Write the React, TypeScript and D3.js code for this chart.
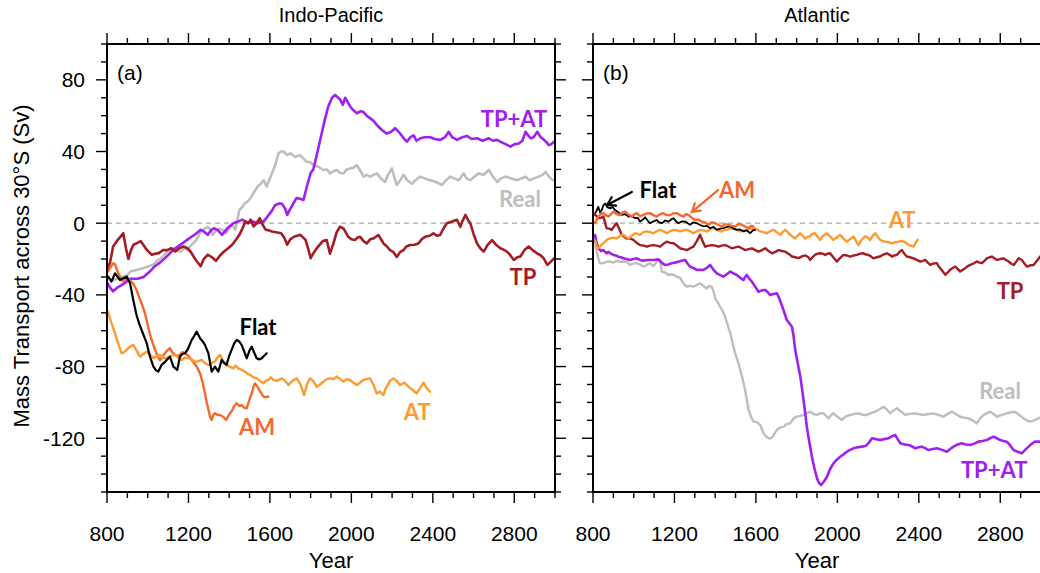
import React from 'react';
import * as d3 from 'd3';

type P = [number, number];

// ---------------- Indo-Pacific (a) ----------------
const ipTPAT: P[] = [[800,-33],[815,-36],[830,-38],[850,-36],[880,-34],[915,-31],[950,-31],[980,-30],[1010,-27],[1035,-24],[1060,-22],[1085,-19.5],[1110,-16.7],[1135,-14],[1160,-12],[1185,-10],[1210,-8],[1235,-6],[1260,-3.7],[1280,-5],[1295,-6.5],[1310,-4],[1325,-2.8],[1345,-4],[1365,-6.5],[1390,-3],[1420,0],[1445,1],[1465,2],[1490,0],[1515,1],[1540,0],[1570,1],[1590,4],[1610,7],[1625,10],[1645,11],[1660,10.8],[1675,8],[1685,4.6],[1700,8],[1710,10],[1730,14],[1748,13.6],[1765,13],[1785,22],[1800,28],[1813,30],[1830,38],[1846,46],[1866,56],[1886,65],[1905,70],[1920,71.5],[1935,70],[1945,69],[1958,66],[1970,70],[1985,67],[1995,65],[2010,63],[2027,61.3],[2045,62.5],[2060,62],[2075,60],[2093,58.5],[2110,57],[2125,54.8],[2150,52],[2174,50],[2195,51],[2215,53],[2240,50],[2260,47],[2273,45.5],[2290,48],[2306,49],[2320,46],[2339,47.4],[2360,48],[2388,48],[2410,47],[2437,46.5],[2460,48],[2478,51],[2495,48],[2519,46.5],[2545,48],[2568,48.7],[2590,47],[2617,47.4],[2645,46],[2675,47.4],[2695,46],[2716,46.5],[2740,45],[2760,44],[2781,42.7],[2800,44],[2822,44.5],[2840,46],[2855,51],[2868,49],[2880,47.4],[2895,48],[2913,51],[2930,48],[2946,46.5],[2960,45],[2970,43.6],[2980,44],[2995,45.5]];

const ipReal: P[] = [[800,-30],[825,-32],[850,-31],[875,-30],[900,-29],[915,-27],[950,-26],[980,-25],[1005,-24],[1030,-23],[1045,-21],[1060,-20],[1080,-18],[1095,-16],[1120,-14],[1140,-15],[1160,-16],[1180,-14],[1195,-15],[1215,-12],[1235,-10],[1250,-7],[1260,-4.6],[1280,-3],[1295,-2],[1310,-4],[1320,-6.5],[1335,-4],[1350,-3],[1370,-4],[1385,-5.6],[1400,-3],[1415,-1],[1430,-3.7],[1440,2],[1450,7.4],[1465,9],[1475,11],[1490,12],[1505,14],[1520,17],[1540,20.5],[1555,22],[1570,24],[1584,20.4],[1600,25],[1617,29.7],[1630,34],[1642,39],[1655,40],[1667,40],[1685,38],[1700,39],[1724,37],[1748,38],[1765,36],[1781,34.3],[1800,34],[1813,32.4],[1838,31.5],[1862,29.7],[1880,30],[1895,27.8],[1912,29],[1928,29.7],[1945,28],[1961,27.8],[1978,30],[1993,30.6],[2010,31],[2027,32.4],[2045,29],[2060,26],[2075,27],[2092,26],[2110,27],[2125,27.8],[2145,25],[2166,23],[2180,27],[2199,30.6],[2210,26],[2223,21.3],[2240,24],[2256,27],[2275,24],[2297,22],[2315,24],[2338,26],[2360,25],[2387,24],[2415,23],[2445,21.3],[2465,24],[2486,26],[2505,25],[2527,24],[2552,27.8],[2565,25],[2584,24],[2605,26],[2625,27.8],[2650,27],[2675,29.7],[2695,26],[2716,23],[2735,25],[2757,26],[2785,25],[2814,24],[2835,25],[2855,26],[2875,24],[2896,25],[2920,26],[2940,27],[2953,28.7],[2970,26],[2990,24]];

const ipTP: P[] = [[800,-26],[815,-22],[830,-13],[855,-9],[880,-5.6],[893,-14],[905,-20],[918,-15],[930,-12],[950,-11],[965,-10],[990,-14],[1005,-16],[1020,-17.6],[1035,-17],[1055,-16.7],[1075,-15],[1095,-15],[1115,-14],[1135,-15.8],[1155,-14],[1175,-13],[1195,-14],[1210,-15.8],[1235,-20.4],[1260,-24],[1275,-20],[1295,-17.6],[1315,-19],[1335,-21],[1355,-18],[1375,-15.8],[1395,-14],[1415,-12],[1435,-9],[1450,-6.5],[1465,-3],[1480,1],[1495,0],[1505,2],[1520,-1.8],[1535,0],[1550,2.8],[1565,-1],[1580,-3.7],[1595,-4],[1610,-4.6],[1630,-5],[1655,-5.6],[1670,-8],[1685,-12],[1700,-9],[1720,-7.4],[1735,-7],[1750,-6.5],[1775,-9.3],[1790,-15],[1800,-19.5],[1812,-17],[1830,-14],[1845,-12],[1860,-10],[1879,-9.4],[1895,-17],[1912,-11.3],[1928,-5],[1944,-2],[1961,-2.9],[1985,-7.6],[2000,-9],[2018,-9.4],[2030,-8],[2043,-7.6],[2060,-10],[2076,-11.3],[2092,-9],[2108,-8.5],[2133,-6.6],[2158,-11.3],[2175,-13],[2190,-15],[2205,-16],[2223,-18.8],[2240,-16],[2256,-15],[2270,-13],[2288,-12.2],[2310,-12],[2329,-11.3],[2345,-9],[2362,-7.6],[2385,-7],[2403,-5.7],[2420,-7],[2436,-6.6],[2452,-3],[2469,0],[2494,0.9],[2518,1.9],[2535,-2],[2545,1],[2560,4.6],[2572,2],[2584,0],[2600,-6],[2617,-11.3],[2633,-14],[2650,-15.9],[2670,-12],[2691,-9.4],[2710,-12],[2732,-14],[2752,-15],[2773,-16.8],[2798,-20.5],[2815,-19],[2830,-18.6],[2850,-15],[2871,-13],[2890,-15],[2912,-16.8],[2930,-18],[2945,-19.6],[2962,-23.3],[2975,-22],[2995,-19.6]];

const ipFlat: P[] = [[806,-29.8],[822,-32.6],[839,-28],[864,-31.7],[897,-29.8],[913,-33.5],[929,-42.9],[945,-51.2],[958,-56],[970,-59.6],[985,-64],[995,-67],[1011,-74.5],[1028,-80],[1040,-82],[1052,-82.8],[1068,-79.1],[1080,-78],[1093,-76.3],[1109,-74.5],[1126,-80],[1145,-81.9],[1158,-74.5],[1170,-73],[1183,-72.6],[1199,-69.8],[1216,-65.1],[1228,-63],[1240,-60.5],[1257,-64.2],[1270,-66],[1281,-67.9],[1298,-72.6],[1314,-82.8],[1330,-80],[1347,-82.8],[1363,-76.3],[1375,-78],[1387,-79.1],[1400,-74],[1412,-70.7],[1425,-67],[1437,-65.1],[1449,-66],[1461,-67.9],[1475,-72],[1486,-75.4],[1500,-71],[1511,-68.9],[1522,-72],[1535,-75.4],[1548,-76],[1560,-75.4],[1572,-74],[1584,-72.6]];

const ipAM: P[] = [[805,-27],[815,-25],[830,-22.4],[840,-23],[855,-28],[880,-32.6],[895,-31],[912,-31.7],[930,-34],[945,-37.3],[960,-42],[970,-44.7],[986,-50],[1000,-57],[1011,-62],[1028,-68],[1044,-73],[1060,-76.5],[1075,-74],[1085,-72.6],[1095,-71],[1109,-69.8],[1120,-72],[1134,-73.5],[1146,-74],[1158,-73.5],[1170,-72],[1183,-72.6],[1200,-74],[1216,-76.3],[1240,-80],[1257,-83.8],[1270,-89],[1281,-94.9],[1290,-100],[1298,-104],[1306,-108],[1314,-109.8],[1322,-107],[1330,-106],[1342,-107],[1355,-107],[1370,-108],[1385,-109.8],[1398,-107],[1412,-105],[1425,-102],[1437,-100.5],[1450,-102],[1462,-101.5],[1474,-103],[1486,-103.3],[1498,-99],[1511,-94.9],[1520,-91],[1527,-89.4],[1538,-91],[1548,-93.1],[1558,-95],[1568,-96.8],[1580,-97],[1593,-96.8]];

const ipAT: P[] = [[805,-49.4],[820,-55],[839,-61.4],[855,-67],[872,-72.6],[884,-72],[896,-70.7],[912,-69],[929,-67.9],[945,-71],[962,-74.5],[978,-73],[995,-71.7],[1010,-73],[1028,-75.4],[1044,-74],[1060,-73.5],[1076,-75],[1093,-75.4],[1112,-74],[1134,-73.5],[1150,-75],[1167,-76.3],[1183,-75],[1200,-75.4],[1216,-76],[1233,-77.3],[1250,-77],[1265,-76.3],[1280,-78],[1298,-79.1],[1314,-78],[1330,-77.3],[1342,-75],[1355,-73.5],[1370,-77],[1387,-79.1],[1403,-80],[1420,-81],[1432,-79.5],[1445,-81],[1462,-82],[1478,-82.8],[1490,-84],[1503,-84.7],[1520,-86],[1535,-86.6],[1552,-88],[1568,-89.4],[1580,-88],[1593,-87.5],[1605,-86],[1617,-87.5],[1635,-88],[1658,-86.6],[1675,-88],[1691,-90.3],[1710,-88],[1732,-86.6],[1750,-90],[1768,-95.9],[1782,-90],[1797,-86.6],[1812,-88],[1830,-91.2],[1846,-90],[1863,-88.4],[1880,-87],[1895,-86.6],[1912,-87],[1928,-85.6],[1945,-87],[1961,-88.4],[1977,-87],[1993,-87.5],[2010,-89],[2026,-90.3],[2042,-89],[2059,-87.5],[2075,-87],[2092,-86.6],[2108,-90],[2124,-95],[2140,-94],[2157,-95.9],[2166,-93],[2174,-91.2],[2190,-88],[2206,-86.6],[2222,-88],[2239,-90.3],[2260,-89],[2280,-91.2],[2300,-93],[2321,-95],[2338,-92],[2354,-89],[2370,-92],[2386,-94]];

// ---------------- Atlantic (b) ----------------
const atFlat: P[] = [[810,5.5],[818,7],[826,9.2],[835,6],[843,7.4],[851,10],[859,11],[870,9],[884,8.3],[896,9],[908,7.4],[925,6],[941,4.6],[958,5],[974,3.7],[990,4],[1007,2.8],[1020,3],[1031,0.9],[1045,2],[1056,3.3],[1068,1.5],[1080,0],[1097,1],[1113,1.8],[1125,0.5],[1138,0],[1155,1.5],[1171,0.9],[1183,2],[1195,2.8],[1208,1],[1220,0],[1237,1],[1253,0.9],[1265,0],[1277,-0.9],[1293,0.5],[1310,0],[1326,-1],[1343,-1.8],[1360,-1.5],[1375,-2.8],[1392,-2],[1408,-3.7],[1425,-3],[1441,-2.8],[1458,-2],[1474,-1.8],[1490,-3],[1506,-3.7],[1522,-3.5],[1539,-4.6],[1555,-4],[1572,-5.6],[1585,-4],[1596,-3.7]];

const atAM: P[] = [[810,0],[818,2],[826,3.7],[838,5],[851,5.6],[863,4.5],[875,3.7],[888,5],[900,6.5],[916,5],[933,4.6],[945,6],[957,6.5],[973,5],[990,3.7],[1003,5],[1015,5.6],[1031,4],[1048,4.6],[1064,5.5],[1080,5.6],[1097,4.5],[1113,3.7],[1130,5],[1146,5.6],[1162,4.5],[1179,4.6],[1195,5.5],[1212,5.6],[1228,4.5],[1244,3.7],[1257,5],[1269,4.6],[1285,3],[1302,1.8],[1318,2],[1334,0.9],[1350,0.5],[1367,-0.9],[1384,0.5],[1400,0],[1416,-1],[1433,-1.8],[1450,-0.5],[1466,-0.9],[1482,-1.5],[1498,-1.8],[1515,-0.5],[1531,-0.9],[1548,-2],[1564,-2.8],[1576,-1.5],[1588,-1.8]];

const atAT: P[] = [[812,-10],[818,-13.1],[826,-14],[842,-12],[859,-10.3],[872,-9],[884,-8.5],[900,-8],[916,-8.5],[933,-7],[949,-6.5],[962,-7.5],[974,-8.5],[990,-7],[1007,-5.6],[1020,-6],[1031,-6.5],[1048,-5],[1064,-4.6],[1080,-5],[1097,-5.6],[1113,-4.5],[1130,-3.7],[1146,-4.5],[1162,-5.6],[1179,-4.5],[1195,-3.7],[1212,-4],[1228,-4.6],[1244,-4],[1261,-3.7],[1277,-4.5],[1293,-5.6],[1310,-4.5],[1326,-3.7],[1342,-4],[1359,-4.6],[1375,-3.5],[1392,-2.8],[1408,-3.5],[1425,-4.6],[1441,-4],[1457,-3.7],[1474,-3],[1490,-2.8],[1506,-3.5],[1523,-4.6],[1540,-4],[1556,-3.7],[1572,-3],[1588,-2.8],[1605,-3.5],[1621,-4.6],[1637,-5],[1654,-5.6],[1670,-4.5],[1686,-3.7],[1702,-5],[1719,-6.5],[1731,-5],[1744,-3.7],[1756,-5],[1769,-6.5],[1781,-7.5],[1793,-8.5],[1805,-7],[1818,-5.6],[1830,-7],[1842,-8.5],[1855,-7.5],[1866,-7.4],[1878,-6],[1890,-5.6],[1903,-7.5],[1915,-9.3],[1930,-7],[1948,-5.6],[1965,-7.5],[1981,-9.3],[1997,-8],[2013,-6.5],[2030,-8.5],[2046,-10.3],[2062,-9],[2079,-7.4],[2092,-10],[2104,-12.2],[2120,-9],[2137,-7.4],[2150,-8],[2161,-9.3],[2174,-7],[2186,-5.6],[2198,-7.5],[2210,-9.3],[2222,-10],[2235,-10.3],[2250,-10.5],[2268,-11.2],[2285,-10.5],[2301,-10.3],[2313,-10],[2325,-10.3],[2338,-11],[2350,-12.2],[2362,-12.5],[2374,-13.1],[2385,-11],[2394,-9.3]];

const atTP: P[] = [[810,4.6],[818,4],[826,2.8],[838,3],[851,3.7],[860,0],[867,-2.8],[880,-3],[892,-3.7],[905,-1.5],[916,0],[928,-3],[941,-6.5],[953,-7.5],[966,-8.5],[982,-8.5],[998,-9.3],[1015,-11],[1031,-12.2],[1048,-12.5],[1064,-13.1],[1080,-12.5],[1097,-12.2],[1113,-12.5],[1130,-13.1],[1146,-11.5],[1162,-10.3],[1179,-11],[1195,-11.2],[1212,-12.5],[1228,-14],[1244,-14.5],[1261,-15],[1277,-14],[1293,-13.1],[1310,-10],[1326,-6.5],[1338,-10],[1351,-13.1],[1367,-12.5],[1384,-12.2],[1400,-12.5],[1416,-13.1],[1432,-12.5],[1449,-12.2],[1465,-13],[1482,-14],[1498,-13.5],[1515,-13.1],[1531,-14],[1548,-15],[1564,-14.5],[1580,-14],[1597,-15],[1613,-15.9],[1630,-15],[1646,-14],[1662,-15.5],[1679,-16.8],[1695,-16],[1711,-15],[1728,-15.5],[1744,-15.9],[1760,-17],[1777,-18.6],[1793,-19],[1810,-19.5],[1826,-18.5],[1842,-18],[1858,-19],[1866,-20.5],[1878,-19],[1890,-17.7],[1903,-17],[1915,-16.8],[1928,-17],[1940,-17.7],[1952,-17],[1964,-16.8],[1980,-19],[1997,-21.4],[2013,-19.5],[2030,-17.7],[2046,-18],[2063,-18.6],[2080,-18],[2096,-17.7],[2112,-17],[2128,-16.8],[2140,-17.5],[2153,-17.7],[2165,-18.5],[2177,-19.6],[2193,-19],[2210,-18.6],[2226,-17.5],[2243,-16.8],[2255,-17.5],[2268,-18.6],[2280,-18],[2292,-17.7],[2305,-16],[2317,-15],[2329,-17],[2341,-18.6],[2357,-19],[2374,-19.6],[2390,-20.5],[2407,-21.4],[2420,-21],[2432,-20.5],[2444,-22],[2456,-23.3],[2472,-22.5],[2489,-22.3],[2497,-24],[2505,-25.1],[2518,-27],[2530,-28.8],[2542,-27.5],[2554,-26],[2567,-25],[2579,-24.2],[2591,-25.5],[2603,-27],[2616,-26],[2628,-25.1],[2640,-24],[2653,-23.3],[2669,-22.5],[2685,-21.4],[2698,-22],[2710,-22.3],[2722,-21],[2734,-19.6],[2747,-19],[2759,-18.6],[2771,-19.5],[2784,-20.5],[2800,-20],[2816,-19.6],[2828,-20.5],[2841,-21.4],[2853,-22.5],[2866,-23.3],[2878,-21.5],[2890,-19.6],[2898,-20],[2906,-20.5],[2918,-22.5],[2931,-24.2],[2947,-23.5],[2964,-23.3],[2980,-21],[2996,-18.6]];

const atReal: P[] = [[810,-10],[818,-15.6],[826,-19.6],[834,-22.4],[851,-22.3],[867,-21.5],[884,-21.4],[900,-22],[916,-21],[933,-21.5],[949,-21.4],[965,-21.5],[982,-23.3],[998,-22.5],[1015,-22.3],[1031,-23],[1048,-24.2],[1064,-23.3],[1080,-22.3],[1097,-24],[1113,-21.4],[1121,-20.5],[1130,-20.5],[1138,-27],[1154,-27.5],[1170,-28.9],[1190,-28.5],[1211,-29.8],[1228,-30.5],[1244,-33.6],[1260,-35.4],[1277,-35],[1293,-35.4],[1310,-34.5],[1326,-33.6],[1342,-35],[1359,-36.4],[1371,-35],[1383,-35.4],[1392,-38],[1400,-41.9],[1412,-44],[1424,-46.6],[1437,-49],[1449,-52.2],[1462,-57],[1474,-61.4],[1486,-67],[1498,-72.6],[1511,-77],[1523,-81.9],[1535,-87],[1547,-93.1],[1556,-99],[1564,-104.2],[1576,-108],[1588,-110.7],[1605,-111],[1621,-112.6],[1630,-115],[1637,-117.3],[1650,-119],[1662,-120],[1673,-120],[1683,-119.1],[1693,-117],[1703,-115.4],[1720,-114],[1736,-113.5],[1752,-112],[1768,-111.7],[1785,-109],[1801,-107.9],[1818,-107.5],[1834,-107],[1850,-106],[1867,-105.2],[1883,-106.5],[1900,-107],[1916,-106],[1932,-106.1],[1945,-107.5],[1957,-108.9],[1970,-107],[1981,-106.1],[2000,-108],[2022,-109.8],[2040,-108],[2063,-107],[2083,-106.5],[2104,-106.1],[2125,-107],[2145,-107],[2165,-106],[2186,-105.2],[2205,-104],[2227,-102.4],[2243,-104],[2259,-106.1],[2275,-104.5],[2292,-103.3],[2312,-105],[2333,-107],[2354,-106.5],[2374,-106.1],[2398,-106.5],[2423,-107],[2448,-106.5],[2472,-106.1],[2496,-107],[2521,-108],[2541,-106.5],[2562,-105.2],[2582,-106.5],[2603,-108],[2623,-108.5],[2644,-108.9],[2664,-110],[2685,-111.7],[2700,-109],[2718,-107],[2735,-106],[2751,-105.2],[2767,-106.5],[2783,-108],[2808,-107],[2832,-106.1],[2852,-105.5],[2873,-105.2],[2893,-107],[2914,-108.9],[2930,-110],[2947,-110.7],[2967,-110],[2988,-108.9],[3000,-108]];

const atTPAT: P[] = [[810,-6.6],[818,-11],[826,-14],[840,-15.5],[851,-15],[867,-16.8],[875,-16],[888,-17],[900,-17.7],[912,-18],[924,-18.7],[937,-19],[949,-19.6],[965,-20],[982,-20.5],[998,-20],[1015,-19.6],[1031,-20.5],[1048,-20.9],[1064,-20.5],[1080,-20.5],[1100,-20.5],[1121,-20.2],[1137,-22],[1153,-23.3],[1170,-23],[1186,-22.4],[1202,-22],[1219,-21.5],[1235,-21],[1252,-20.5],[1264,-22.5],[1277,-24.3],[1293,-25],[1310,-26.1],[1326,-26],[1342,-26.1],[1358,-25],[1375,-23.3],[1392,-26],[1408,-28],[1425,-29],[1441,-29.8],[1457,-28.5],[1474,-27],[1490,-28],[1506,-28.9],[1523,-30.5],[1539,-31.7],[1547,-30],[1555,-28.9],[1568,-31],[1580,-32.6],[1597,-35.5],[1613,-38.2],[1630,-37.5],[1646,-37.3],[1658,-38.5],[1670,-40.1],[1686,-39.5],[1703,-39.1],[1715,-42],[1727,-45.7],[1740,-50],[1752,-54],[1765,-56],[1777,-57.8],[1785,-63],[1793,-70.8],[1805,-78],[1818,-85.6],[1826,-92],[1834,-98.7],[1842,-106],[1850,-113.5],[1862,-122],[1875,-130.3],[1888,-137],[1900,-142.4],[1910,-145],[1920,-146.1],[1935,-144],[1949,-141.5],[1965,-137],[1981,-134],[1997,-132],[2014,-130.3],[2030,-129],[2047,-127.5],[2063,-126.5],[2080,-125.6],[2100,-125],[2121,-124.7],[2133,-124.5],[2145,-123.8],[2158,-122],[2170,-120],[2190,-120.5],[2210,-121],[2230,-120.5],[2251,-120],[2267,-119],[2284,-118.2],[2296,-120.5],[2309,-122.8],[2330,-123.5],[2350,-123.8],[2366,-124.5],[2383,-125.6],[2399,-125],[2415,-124.7],[2431,-125.5],[2448,-126.6],[2468,-126],[2489,-125.6],[2513,-126.5],[2538,-127.5],[2554,-126],[2570,-124.7],[2590,-123.5],[2611,-122.8],[2631,-123.5],[2652,-123.8],[2672,-123],[2693,-121.9],[2713,-121.5],[2734,-121],[2750,-120],[2767,-119.1],[2783,-120],[2800,-121],[2816,-121.5],[2832,-121.9],[2849,-124],[2865,-126.6],[2885,-127.5],[2906,-128.4],[2922,-126.5],[2939,-124.7],[2955,-123],[2971,-121.9],[2993,-121.9]];

// ---------------- axes ----------------
const xDomain: [number, number] = [800, 3000];
const yDomain: [number, number] = [-150, 100];
const xMajorTicks = [800, 1200, 1600, 2000, 2400, 2800];
const yMajorTicks = [80, 40, 0, -40, -80, -120];
const xMinorTicks = d3.range(800, 3001, 100);
const yMinorTicks = d3.range(-150, 101, 10);

const C = {
  purple: '#A020F0',
  gray: '#BEBEBE',
  tp: '#A51C24',
  am: '#F4692E',
  at: '#FF9A2E',
  flat: '#000000',
};

type Series = { data: P[]; color: string; width: number };
type Label = { text: string; x: number; y: number; color: string };
type Arrow = { x1: number; y1: number; x2: number; y2: number; color: string };

const panels: {
  left: number; title: string; tag: string; series: Series[]; labels: Label[]; arrows: Arrow[]; yLabels: boolean;
}[] = [
  {
    left: 107, title: 'Indo-Pacific', tag: '(a)', yLabels: true,
    series: [
      { data: ipReal, color: C.gray, width: 2.6 },
      { data: ipTPAT, color: C.purple, width: 2.6 },
      { data: ipTP, color: C.tp, width: 2.6 },
      { data: ipAM, color: C.am, width: 2.4 },
      { data: ipAT, color: C.at, width: 2.4 },
      { data: ipFlat, color: C.flat, width: 2.2 },
    ],
    labels: [
      { text: 'TP+AT', x: 2799, y: 53.7, color: C.purple },
      { text: 'Real', x: 2828, y: 9.2, color: C.gray },
      { text: 'TP', x: 2843, y: -34.5, color: C.tp },
      { text: 'Flat', x: 1542, y: -62.4, color: C.flat },
      { text: 'AM', x: 1537, y: -118.2, color: C.am },
      { text: 'AT', x: 2323, y: -109.8, color: C.at },
    ],
    arrows: [],
  },
  {
    left: 593, title: 'Atlantic', tag: '(b)', yLabels: false,
    series: [
      { data: atReal, color: C.gray, width: 2.4 },
      { data: atTPAT, color: C.purple, width: 2.6 },
      { data: atTP, color: C.tp, width: 2.4 },
      { data: atAT, color: C.at, width: 2.4 },
      { data: atFlat, color: C.flat, width: 1.8 },
      { data: atAM, color: C.am, width: 2.4 },
    ],
    labels: [
      { text: 'Flat', x: 1119, y: 14.1, color: C.flat },
      { text: 'AM', x: 1507, y: 14.1, color: C.am },
      { text: 'AT', x: 2318, y: -2.7, color: C.at },
      { text: 'TP', x: 2848, y: -42.3, color: C.tp },
      { text: 'Real', x: 2799, y: -98.1, color: C.gray },
      { text: 'TP+AT', x: 2770, y: -142.2, color: C.purple },
    ],
    arrows: [
      { x1: 991, y1: 17.4, x2: 869, y2: 10.2, color: C.flat },
      { x1: 1414, y1: 18.5, x2: 1286, y2: 6.3, color: C.am },
    ],
  },
];

const TOP = 44;
const SIZE = 448;
const FONT = '"Liberation Sans", Arial, Helvetica, sans-serif';
const LFONT = 'Lato, "Open Sans", sans-serif';

function Panel({ p, idx }: { p: typeof panels[number]; idx: number }) {
  const x = d3.scaleLinear().domain(xDomain).range([p.left, p.left + SIZE]);
  const y = d3.scaleLinear().domain(yDomain).range([TOP + SIZE, TOP]);
  const line = d3.line<P>().x(d => x(d[0])).y(d => y(d[1])).curve(d3.curveLinear);
  const clipId = `clip${idx}`;
  const L = p.left, R = p.left + SIZE, T = TOP, B = TOP + SIZE;
  const cx = (L + R) / 2;
  const arrowHead = (a: Arrow) => {
    const x1 = x(a.x1), y1 = y(a.y1), x2 = x(a.x2), y2 = y(a.y2);
    const ang = Math.atan2(y1 - y2, x1 - x2);
    const len = 9, spread = 0.55;
    const p1 = [x2 + len * Math.cos(ang + spread), y2 + len * Math.sin(ang + spread)];
    const p2 = [x2 + len * Math.cos(ang - spread), y2 + len * Math.sin(ang - spread)];
    return `M${p1[0]},${p1[1]}L${x2},${y2}L${p2[0]},${p2[1]}`;
  };
  return (
    <g>
      <defs>
        <clipPath id={clipId}>
          <rect x={L} y={T} width={SIZE} height={SIZE} />
        </clipPath>
      </defs>
      <text x={cx} y={22} textAnchor="middle" fontFamily={FONT} fontSize={20}>{p.title}</text>
      <line x1={L} x2={R} y1={y(0)} y2={y(0)} stroke="#A8A8A8" strokeWidth={1.2} strokeDasharray="5,4" />
      <g clipPath={`url(#${clipId})`}>
        {p.series.map((s, i) => (
          <path key={i} d={line(s.data) || ''} fill="none" stroke={s.color} strokeWidth={s.width} strokeLinejoin="round" strokeLinecap="round" />
        ))}
      </g>
      {p.arrows.map((a, i) => (
        <g key={i} stroke={a.color} strokeWidth={2.2} fill="none" strokeLinecap="round">
          <line x1={x(a.x1)} y1={y(a.y1)} x2={x(a.x2)} y2={y(a.y2)} />
          <path d={arrowHead(a)} />
        </g>
      ))}
      {p.labels.map((lb, i) => (
        <text key={i} x={x(lb.x)} y={y(lb.y)} textAnchor="middle" fontFamily={LFONT} fontWeight={700} fontSize={22} fill={lb.color}>{lb.text}</text>
      ))}
      <text x={L + 10} y={80} fontFamily={FONT} fontSize={21}>{p.tag}</text>
      <g stroke="#000" strokeWidth={1.4}>
        {xMinorTicks.map(t => {
          const major = xMajorTicks.includes(t);
          const len = major ? 11 : 6;
          return (
            <g key={'x' + t}>
              <line x1={x(t)} x2={x(t)} y1={B} y2={B + len} />
              <line x1={x(t)} x2={x(t)} y1={T} y2={T - len} />
            </g>
          );
        })}
        {yMinorTicks.map(t => {
          const major = yMajorTicks.includes(t);
          const len = major ? 11 : 6;
          return (
            <g key={'y' + t}>
              <line x1={L} x2={L - len} y1={y(t)} y2={y(t)} />
              <line x1={R} x2={R + len} y1={y(t)} y2={y(t)} />
            </g>
          );
        })}
      </g>
      <rect x={L} y={T} width={SIZE} height={SIZE} fill="none" stroke="#000" strokeWidth={2} />
      {xMajorTicks.map(t => (
        <text key={'xl' + t} x={x(t)} y={541} textAnchor="middle" fontFamily={FONT} fontSize={21}>{t}</text>
      ))}
      {p.yLabels && yMajorTicks.map(t => (
        <text key={'yl' + t} x={L - 22} y={y(t) + 7.5} textAnchor="end" fontFamily={FONT} fontSize={21}>{t}</text>
      ))}
      <text x={cx} y={568} textAnchor="middle" fontFamily={FONT} fontSize={22}>Year</text>
    </g>
  );
}

export default function App() {
  return (
    <svg width={1040} height={573} style={{ position: 'absolute', left: 0, top: 0, background: '#fff' }}>
      <rect x={0} y={0} width={1040} height={573} fill="#fff" />
      {panels.map((p, i) => <Panel key={i} p={p} idx={i} />)}
      <text transform="translate(29,266) rotate(-90)" textAnchor="middle" fontFamily={FONT} fontSize={22}>Mass Transport across 30°S (Sv)</text>
    </svg>
  );
}
